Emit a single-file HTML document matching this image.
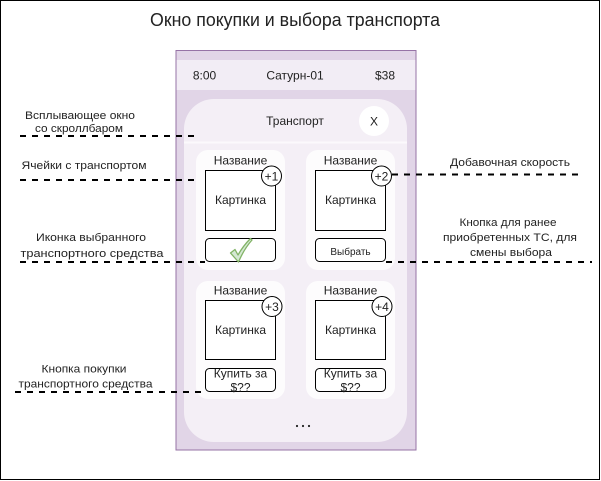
<!DOCTYPE html>
<html><head><meta charset="utf-8"><style>
html,body{margin:0;padding:0;background:#fff;}
svg{display:block;}
text{font-family:"Liberation Sans","Noto Sans CJK SC",sans-serif;fill:#222;}
</style></head><body>
<svg width="601" height="481" viewBox="0 0 601 481" xmlns="http://www.w3.org/2000/svg">
<rect x="0.5" y="0.5" width="599" height="479" fill="#fff" stroke="#000" stroke-width="1"/>
<text x="295" y="26" font-size="18" text-anchor="middle" textLength="290" lengthAdjust="spacingAndGlyphs">Окно покупки и выбора транспорта</text>

<!-- phone -->
<rect x="176" y="50.5" width="240" height="399.5" fill="#e1d5e7" stroke="#9673a6" stroke-width="1"/>
<rect x="176.5" y="60" width="239" height="30" fill="#f2edf5"/>
<text x="204.5" y="79.5" font-size="12" text-anchor="middle">8:00</text>
<text x="295" y="79.5" font-size="12" text-anchor="middle">Сатурн-01</text>
<text x="385" y="79.5" font-size="12" text-anchor="middle">$38</text>

<!-- popup -->
<rect x="184" y="99" width="223" height="343" rx="30" ry="30" fill="#f4eff6"/>
<line x1="184" y1="142.5" x2="407" y2="142.5" stroke="#fbf9fc" stroke-width="2"/>
<text x="295" y="125" font-size="12" text-anchor="middle">Транспорт</text>
<circle cx="374" cy="121" r="15" fill="#fff"/>
<text x="374" y="125.5" font-size="12" text-anchor="middle">X</text>

<!-- cells -->
<rect x="196" y="150" width="89" height="120" rx="12" fill="#fdfcfd"/>
<rect x="306" y="150" width="89" height="120" rx="12" fill="#fdfcfd"/>
<rect x="196" y="281" width="89" height="118" rx="12" fill="#fdfcfd"/>
<rect x="306" y="281" width="89" height="118" rx="12" fill="#fdfcfd"/>

<!-- cell 1 -->
<text x="240.5" y="164.5" font-size="12" text-anchor="middle">Название</text>
<rect x="205.5" y="170.5" width="70" height="60" fill="#fff" stroke="#000"/>
<text x="240.5" y="204" font-size="12" text-anchor="middle">Картинка</text>
<circle cx="271.5" cy="176" r="10" fill="#fff" stroke="#000"/>
<text x="271.5" y="180.5" font-size="12" text-anchor="middle">+1</text>
<rect x="205.5" y="238.5" width="70" height="23" rx="4" fill="#fff" stroke="#000"/>
<path d="M230.5,253 L235,249.5 L238,255 Q243,246 250.5,238.5 L252,240 Q244,249 238.5,262 Z" fill="#d5e8d4" stroke="#82b366" stroke-width="1.3" stroke-linejoin="round"/>

<!-- cell 2 -->
<text x="350.5" y="164.5" font-size="12" text-anchor="middle">Название</text>
<rect x="315.5" y="170.5" width="70" height="60" fill="#fff" stroke="#000"/>
<text x="350.5" y="204" font-size="12" text-anchor="middle">Картинка</text>
<circle cx="381.5" cy="176" r="10" fill="#fff" stroke="#000"/>
<text x="381.5" y="180.5" font-size="12" text-anchor="middle">+2</text>
<rect x="315.5" y="238.5" width="70" height="23" rx="4" fill="#fff" stroke="#000"/>
<text x="350.5" y="255" font-size="10" text-anchor="middle">Выбрать</text>

<!-- cell 3 -->
<text x="240.5" y="294.5" font-size="12" text-anchor="middle">Название</text>
<rect x="205.5" y="300.5" width="70" height="59" fill="#fff" stroke="#000"/>
<text x="240.5" y="334" font-size="12" text-anchor="middle">Картинка</text>
<circle cx="272" cy="306.5" r="10" fill="#fff" stroke="#000"/>
<text x="272" y="311" font-size="12" text-anchor="middle">+3</text>
<rect x="205.5" y="368.5" width="70" height="23" rx="4" fill="#fff" stroke="#000"/>
<text x="240.5" y="377.5" font-size="12" text-anchor="middle">Купить за</text>
<text x="240.5" y="391.5" font-size="12" text-anchor="middle">$??</text>

<!-- cell 4 -->
<text x="350.5" y="294.5" font-size="12" text-anchor="middle">Название</text>
<rect x="315.5" y="300.5" width="70" height="59" fill="#fff" stroke="#000"/>
<text x="350.5" y="334" font-size="12" text-anchor="middle">Картинка</text>
<circle cx="382" cy="306.5" r="10" fill="#fff" stroke="#000"/>
<text x="382" y="311" font-size="12" text-anchor="middle">+4</text>
<rect x="315.5" y="368.5" width="70" height="23" rx="4" fill="#fff" stroke="#000"/>
<text x="350.5" y="377.5" font-size="12" text-anchor="middle">Купить за</text>
<text x="350.5" y="391.5" font-size="12" text-anchor="middle">$??</text>

<!-- dots -->
<circle cx="297" cy="426" r="1.1" fill="#222"/>
<circle cx="303" cy="426" r="1.1" fill="#222"/>
<circle cx="309" cy="426" r="1.1" fill="#222"/>

<!-- annotations -->
<g stroke="#000" stroke-width="2" stroke-dasharray="6 6" fill="none">
<line x1="20" y1="136" x2="194" y2="136"/>
<line x1="20" y1="180" x2="194" y2="180"/>
<line x1="20" y1="262" x2="205" y2="262"/>
<line x1="392" y1="174.5" x2="578" y2="174.5"/>
<line x1="386" y1="262" x2="592" y2="262"/>
<line x1="15" y1="392" x2="204" y2="392"/>
</g>
<g font-size="11">
<text x="80" y="119" text-anchor="middle" textLength="110" lengthAdjust="spacingAndGlyphs">Всплывающее окно</text>
<text x="79" y="132" text-anchor="middle" textLength="88" lengthAdjust="spacingAndGlyphs">со скроллбаром</text>
<text x="84" y="169" text-anchor="middle" textLength="125" lengthAdjust="spacingAndGlyphs">Ячейки с транспортом</text>
<text x="91" y="241" text-anchor="middle" textLength="110" lengthAdjust="spacingAndGlyphs">Иконка выбранного</text>
<text x="92" y="257" text-anchor="middle" textLength="143" lengthAdjust="spacingAndGlyphs">транспортного средства</text>
<text x="510" y="166" text-anchor="middle" textLength="120" lengthAdjust="spacingAndGlyphs">Добавочная скорость</text>
<text x="508" y="226" text-anchor="middle" textLength="97" lengthAdjust="spacingAndGlyphs">Кнопка для ранее</text>
<text x="510" y="241" text-anchor="middle" textLength="134" lengthAdjust="spacingAndGlyphs">приобретенных ТС, для</text>
<text x="511" y="256" text-anchor="middle" textLength="82" lengthAdjust="spacingAndGlyphs">смены выбора</text>
<text x="84" y="372.5" text-anchor="middle" textLength="85" lengthAdjust="spacingAndGlyphs">Кнопка покупки</text>
<text x="85.5" y="387.5" text-anchor="middle" textLength="134" lengthAdjust="spacingAndGlyphs">транспортного средства</text>
</g>
</svg>
</body></html>
